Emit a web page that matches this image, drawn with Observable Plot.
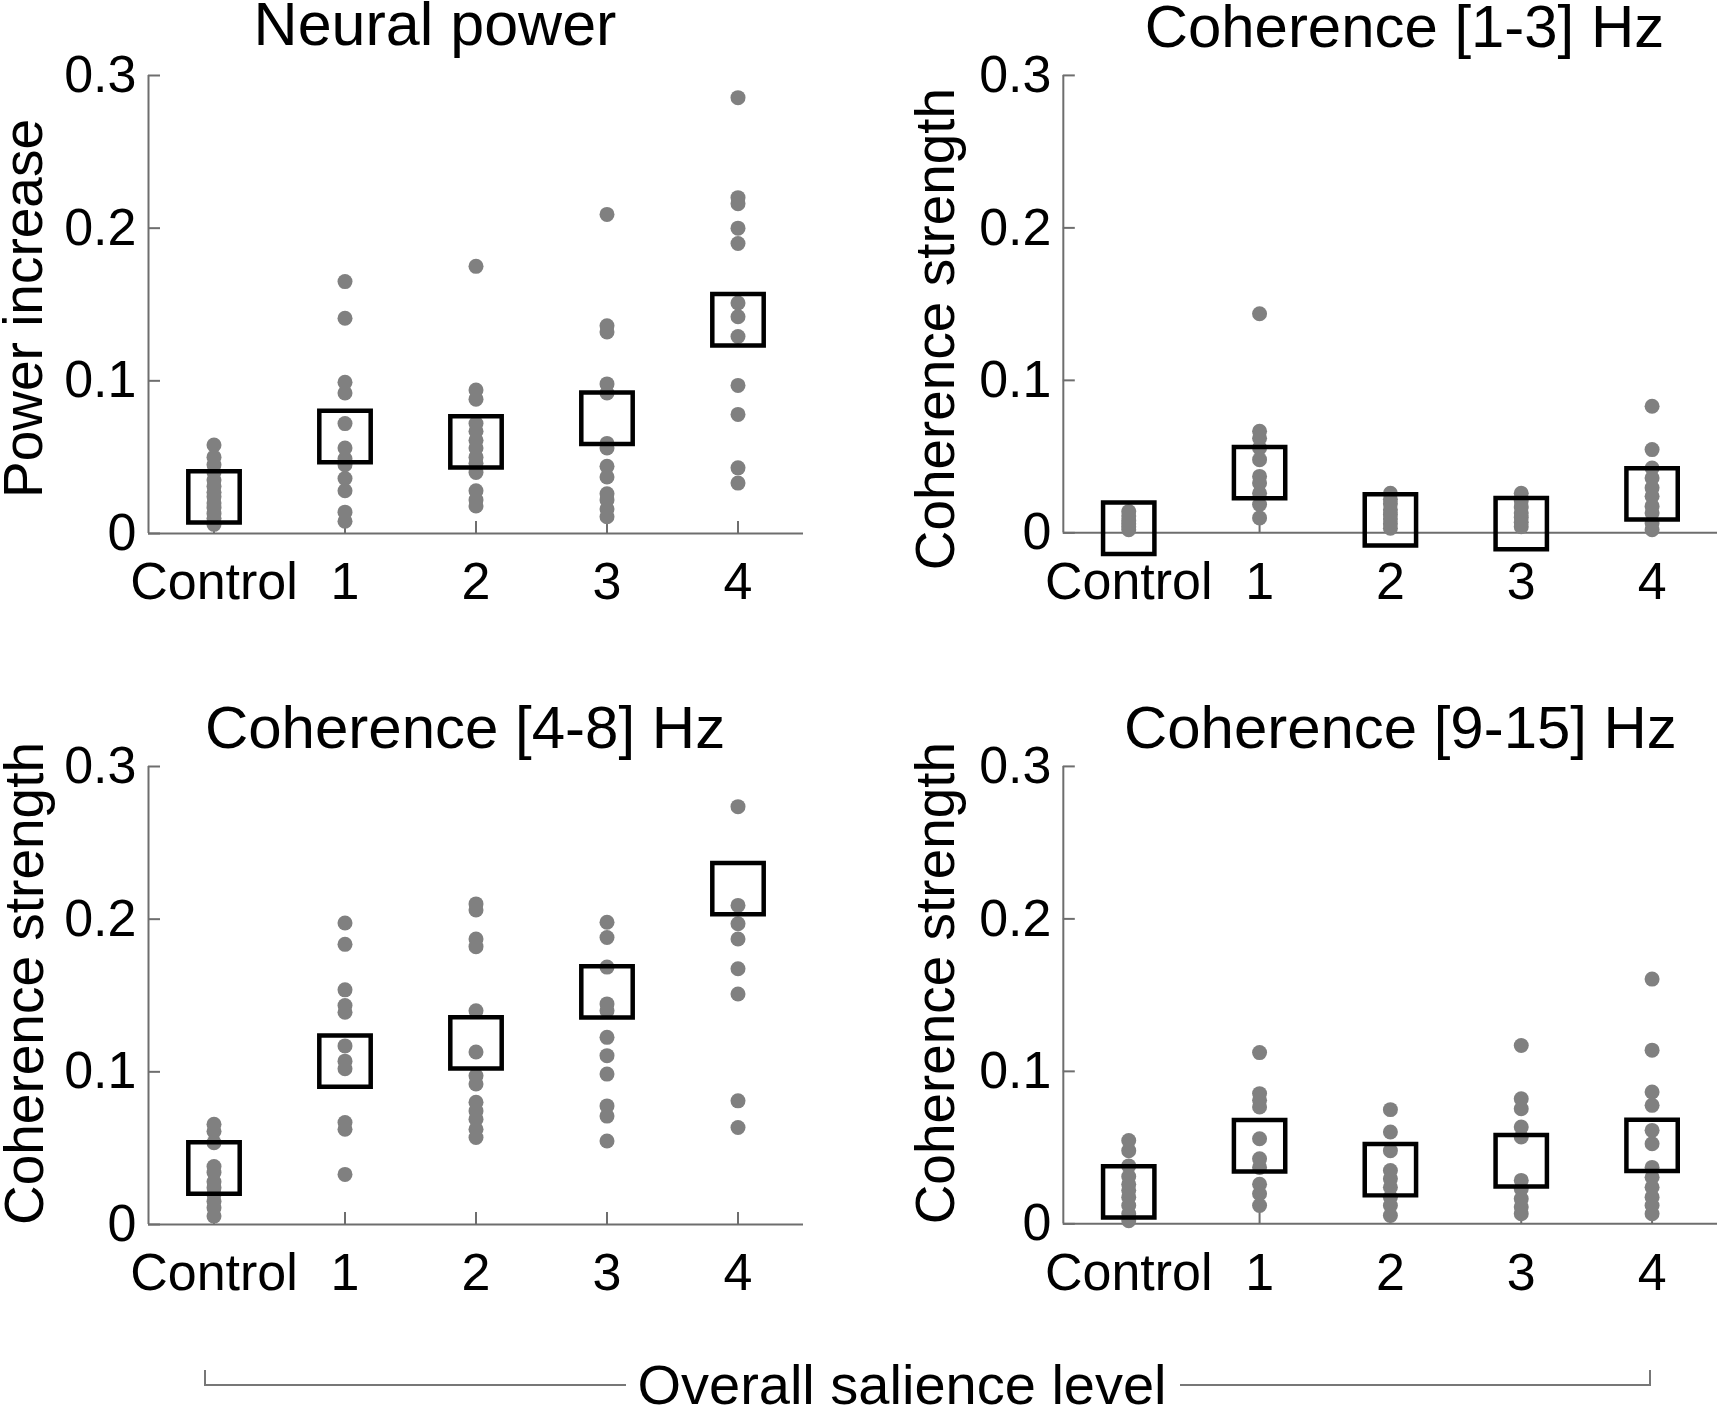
<!DOCTYPE html>
<html>
<head>
<meta charset="utf-8">
<script src="https://cdn.jsdelivr.net/npm/d3@7"></script>
<script src="https://cdn.jsdelivr.net/npm/@observablehq/plot@0.6"></script>
<style>
  html, body { margin: 0; padding: 0; background: #fff; overflow: hidden; }
  #root { position: relative; width: 1717px; height: 1419px; overflow: hidden; background: #fff;
          font-family: "Liberation Sans", Arial, Helvetica, sans-serif; color: #000; }
  .panel { position: absolute; }
  .bline { position: absolute; box-sizing: border-box; height: 16px; border-bottom: 2px solid #777; }
  #xtitle { position: absolute; text-align: center; font-size: 56px; line-height: 56px; white-space: nowrap; }
</style>
</head>
<body>
<div id="root"></div>
<script>
// ---------- data ----------
const categories = ["Control", "1", "2", "3", "4"];
const levelIndex = [0, 1, 2, 3, 4];
const yTicks = [0, 0.1, 0.2, 0.3];
const xDomain = [-0.5, 4.5];

const titles = ["Neural power", "Coherence [1-3] Hz", "Coherence [4-8] Hz", "Coherence [9-15] Hz"];
const yLabels = ["Power increase", "Coherence strength", "Coherence strength", "Coherence strength"];
const xTitle = "Overall salience level";

// individual values per level (Control, 1, 2, 3, 4)
const powerDots = [
  [0.058, 0.050, 0.045, 0.040, 0.035, 0.031, 0.027, 0.024, 0.020, 0.017, 0.013, 0.010, 0.006],
  [0.165, 0.141, 0.099, 0.092, 0.072, 0.056, 0.049, 0.045, 0.036, 0.028, 0.014, 0.008],
  [0.175, 0.094, 0.088, 0.072, 0.067, 0.061, 0.056, 0.050, 0.046, 0.040, 0.028, 0.022, 0.018],
  [0.209, 0.136, 0.132, 0.098, 0.092, 0.059, 0.056, 0.044, 0.037, 0.026, 0.022, 0.016, 0.011],
  [0.2855, 0.220, 0.216, 0.200, 0.190, 0.151, 0.142, 0.129, 0.097, 0.078, 0.043, 0.033]
];
const powerMeans = [0.024, 0.0635, 0.060, 0.0755, 0.140];

const coh13Dots = [
  [0.014, 0.011, 0.008, 0.006, 0.004, 0.002],
  [0.1437, 0.0666, 0.062, 0.0557, 0.048, 0.037, 0.0327, 0.026, 0.0186, 0.0098],
  [0.026, 0.022, 0.019, 0.015, 0.012, 0.009, 0.006, 0.003],
  [0.026, 0.021, 0.017, 0.013, 0.010, 0.007, 0.004],
  [0.083, 0.0546, 0.0425, 0.036, 0.0295, 0.024, 0.0175, 0.013, 0.0065, 0.002]
];
const coh13Means = [0.003, 0.0395, 0.0085, 0.006, 0.0255];

const coh48Dots = [
  [0.0657, 0.061, 0.0536, 0.038, 0.034, 0.028, 0.024, 0.0197, 0.0153, 0.011, 0.0055],
  [0.1975, 0.1835, 0.1537, 0.1434, 0.139, 0.117, 0.107, 0.102, 0.0668, 0.0624, 0.0328],
  [0.210, 0.206, 0.187, 0.182, 0.140, 0.113, 0.0974, 0.092, 0.080, 0.0744, 0.069, 0.0624, 0.057],
  [0.198, 0.188, 0.1686, 0.1445, 0.140, 0.1226, 0.1106, 0.0985, 0.0777, 0.071, 0.0547],
  [0.2737, 0.209, 0.197, 0.187, 0.1675, 0.151, 0.081, 0.0635]
];
const coh48Means = [0.037, 0.107, 0.119, 0.1524, 0.220];

const coh915Dots = [
  [0.0547, 0.048, 0.038, 0.031, 0.026, 0.022, 0.0175, 0.012, 0.0066, 0.002],
  [0.1123, 0.0854, 0.081, 0.0766, 0.0558, 0.0427, 0.037, 0.026, 0.0197, 0.012],
  [0.0749, 0.0602, 0.048, 0.035, 0.0296, 0.024, 0.0175, 0.012, 0.0055],
  [0.117, 0.082, 0.0755, 0.0635, 0.057, 0.0285, 0.023, 0.0164, 0.011, 0.0066],
  [0.1605, 0.1139, 0.0865, 0.0777, 0.0613, 0.0525, 0.037, 0.0306, 0.024, 0.0175, 0.012, 0.0066]
];
const coh915Means = [0.021, 0.0512, 0.0355, 0.0414, 0.0515];

// ---------- layout ----------
const FONT = "'Liberation Sans', Arial, Helvetica, sans-serif";
const AXIS = "#6e6e6e";
const W = 803, H = 690;
const ML = 148, MR = 0, MT = 75, FH = 458;
const FW = W - ML - MR;

const panels = [
  {dots: powerDots, means: powerMeans, left: 0, top: 0, tdx: -41, tdy: -50, tsize: 61, ldx: -124, ldy: 4},
  {dots: coh13Dots, means: coh13Means, left: 915, top: 0, tdx: 14, tdy: -48, tsize: 60, ldx: -127, ldy: 25},
  {dots: coh48Dots, means: coh48Means, left: 0, top: 691, tdx: -11, tdy: -38, tsize: 60, ldx: -123, ldy: -12},
  {dots: coh915Dots, means: coh915Means, left: 915, top: 691, tdx: 10, tdy: -38, tsize: 60, ldx: -127, ldy: -12}
];

const fmt = d => d === 0 ? "0" : d3.format(".1f")(d);
const root = document.getElementById("root");

panels.forEach((p, k) => {
  const pts = p.dots.flatMap((arr, i) => arr.map(v => ({level: levelIndex[i], value: v})));
  const avg = p.means.map((v, i) => ({level: levelIndex[i], value: v}));
  const chart = Plot.plot({
    width: W, height: H,
    marginLeft: ML, marginRight: MR, marginTop: MT, marginBottom: H - MT - FH,
    x: {type: "linear", domain: xDomain},
    y: {type: "linear", domain: [yTicks[0], yTicks[yTicks.length - 1]]},
    style: {fontFamily: FONT, fontSize: "52px", color: "#000", background: "transparent", overflow: "visible"},
    marks: [
      // axis lines
      Plot.ruleY([yTicks[0]], {stroke: AXIS, strokeWidth: 2}),
      Plot.ruleX([xDomain[0]], {y1: yTicks[0], y2: yTicks[yTicks.length - 1], stroke: AXIS, strokeWidth: 2}),
      // inward ticks
      Plot.ruleY(yTicks, {y: d => d, insetRight: FW - 12, stroke: AXIS, strokeWidth: 2}),
      Plot.ruleX(levelIndex, {x: d => d, insetTop: FH - 12, stroke: AXIS, strokeWidth: 2}),
      // tick labels
      Plot.axisY({ticks: yTicks, tickSize: 0, tickPadding: 12, tickFormat: fmt, fontSize: 52, label: null}),
      Plot.axisX({ticks: levelIndex, tickSize: 0, tickPadding: 29, tickFormat: i => categories[i], fontSize: 52, label: null}),
      // individual values
      Plot.dot(pts, {x: "level", y: "value", r: 7.5, fill: "#808080", stroke: "none"}),
      // means
      Plot.dot(avg, {x: "level", y: "value", symbol: "square", r: 29, fill: "none", stroke: "#000", strokeWidth: 4.5}),
      // title
      Plot.text([titles[k]], {frameAnchor: "top", textAnchor: "middle", lineAnchor: "middle",
        dx: p.tdx, dy: p.tdy, fontSize: p.tsize, fill: "#000"}),
      // y label
      Plot.text([yLabels[k]], {frameAnchor: "left", textAnchor: "middle", lineAnchor: "middle", rotate: -90,
        dx: p.ldx, dy: p.ldy, fontSize: 55, fill: "#000"})
    ]
  });
  const wrap = document.createElement("div");
  wrap.className = "panel";
  wrap.style.left = p.left + "px";
  wrap.style.top = p.top + "px";
  wrap.appendChild(chart);
  root.appendChild(wrap);
});

// shared x title with bracket
const lineL = document.createElement("div");
lineL.className = "bline";
Object.assign(lineL.style, {left: "204px", top: "1370px", width: "422px", borderLeft: "2px solid #777"});
const lineR = document.createElement("div");
lineR.className = "bline";
Object.assign(lineR.style, {left: "1180px", top: "1370px", width: "471px", borderRight: "2px solid #777"});
const xt = document.createElement("div");
xt.id = "xtitle";
Object.assign(xt.style, {left: "502px", width: "800px", top: "1357px"});
xt.textContent = xTitle;
root.appendChild(lineL);
root.appendChild(lineR);
root.appendChild(xt);
</script>
</body>
</html>
